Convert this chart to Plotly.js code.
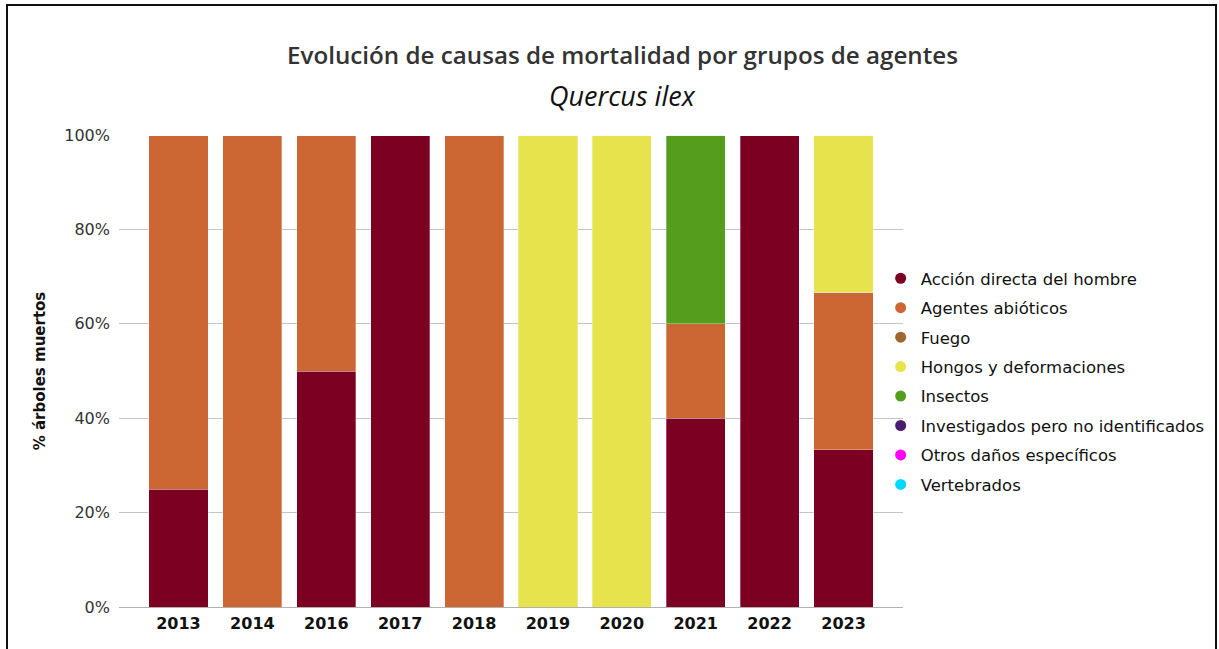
<!DOCTYPE html>
<html>
<head>
<meta charset="utf-8">
<script src="https://cdn.plot.ly/plotly-3.0.1.min.js"></script>
<style>
html,body{margin:0;padding:0;background:#fff;overflow:hidden;}
#chart{position:absolute;left:0;top:0;width:1280px;height:649px;}
#frame{position:absolute;left:6px;top:4px;width:1207px;height:700px;border:2px solid #111;pointer-events:none;}
</style>
</head>
<body>
<div id="chart"></div>
<div id="frame"></div>
<script>
const years = ["2013","2014","2016","2017","2018","2019","2020","2021","2022","2023"];
const seriesNames = ["Acción directa del hombre","Agentes abióticos","Fuego","Hongos y deformaciones","Insectos","Investigados pero no identificados","Otros daños específicos","Vertebrados"];
const seriesColors = ["#7b0022","#cc6633","#a0662f","#e6e34d","#559e1d","#4a1e6e","#ff00ff","#00d9ff"];
const accion      = [25, 0, 50, 100, 0, 0, 0, 40, 100, 33.33];
const abioticos   = [75, 100, 50, 0, 100, 0, 0, 20, 0, 33.33];
const fuego       = [0, 0, 0, 0, 0, 0, 0, 0, 0, 0];
const hongos      = [0, 0, 0, 0, 0, 100, 100, 0, 0, 33.34];
const insectos    = [0, 0, 0, 0, 0, 0, 0, 40, 0, 0];
const investigados= [0, 0, 0, 0, 0, 0, 0, 0, 0, 0];
const otros       = [0, 0, 0, 0, 0, 0, 0, 0, 0, 0];
const vertebrados = [0, 0, 0, 0, 0, 0, 0, 0, 0, 0];
const seriesValues = [accion, abioticos, fuego, hongos, insectos, investigados, otros, vertebrados];
const titleText = 'Evolución de causas de mortalidad por grupos de agentes';
const subtitleText = 'Quercus ilex';

const traces = [];
seriesNames.forEach((n,i)=>{
  traces.push({type:'bar', x:years, y:seriesValues[i], name:n, showlegend:false,
    marker:{color:seriesColors[i], line:{color:'rgba(255,255,255,0.6)', width:0.5}},
    hovertemplate:'%{x}: %{y:.1f}%<extra>'+n+'</extra>'});
});
seriesNames.forEach((n,i)=>{
  traces.push({type:'scatter', mode:'markers', x:[null], y:[null], name:n, showlegend:true,
    legendgroup:'g'+i, marker:{color:seriesColors[i], size:11, symbol:'circle'}});
});

const layout = {
  width:1280, height:649,
  margin:{l:119, r:377, t:135, b:42},
  paper_bgcolor:'#fff', plot_bgcolor:'#fff',
  barmode:'stack', bargap:0.2,
  font:{family:'DejaVu Sans, sans-serif', color:'#222'},
  xaxis:{type:'category', range:[-0.805, 9.805], showgrid:false, showline:false, ticks:'', fixedrange:true,
    ticklabelstandoff:5, automargin:false,
    tickfont:{family:'DejaVu Sans, sans-serif', size:16, color:'#111', weight:'bold'}},
  yaxis:{range:[0,100], dtick:20, ticksuffix:'%', showgrid:true, gridcolor:'#c4c4c4', gridwidth:1,
    zeroline:true, zerolinecolor:'#b0b0b0', zerolinewidth:1, showline:false, ticks:'', ticklen:0,
    ticklabelstandoff:8, automargin:false,
    tickfont:{family:'DejaVu Sans, sans-serif', size:16, color:'#333'},
    title:{text:'% árboles muertos', font:{family:'DejaVu Sans, sans-serif', size:15, color:'#111', weight:'bold'}, standoff:15}},
  legend:{x:0.9715, xanchor:'left', y:0.733, yanchor:'top', font:{family:'DejaVu Sans, sans-serif', size:16.5, color:'#111'},
    itemwidth:30, traceorder:'grouped', tracegroupgap:5, bgcolor:'rgba(0,0,0,0)'},
  annotations:[
    {text:titleText, xref:'paper', yref:'paper',
     x:0.6416, y:1, yshift:81, xanchor:'center', yanchor:'middle', showarrow:false,
     font:{family:'Open Sans, sans-serif', size:24.2, color:'#333', weight:600}},
    {text:'<i>'+subtitleText+'</i>', xref:'paper', yref:'paper',
     x:0.6416, y:1, yshift:40, xanchor:'center', yanchor:'middle', showarrow:false,
     font:{family:'Open Sans, sans-serif', size:27, color:'#111'}}
  ]
};
Plotly.newPlot('chart', traces, layout, {displayModeBar:false, staticPlot:true});
</script>
</body>
</html>
